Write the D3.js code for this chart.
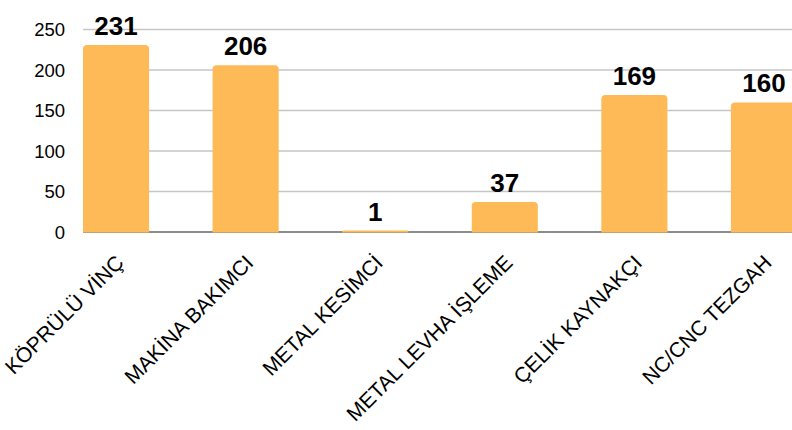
<!DOCTYPE html>
<html><head><meta charset="utf-8">
<script src="https://cdn.jsdelivr.net/npm/d3@7"></script>
<style>html,body{margin:0;padding:0;background:#fff;overflow:hidden}svg{display:block}</style>
</head><body>
<svg id="c" width="792" height="430"></svg>
<script>
const categories = ["KÖPRÜLÜ VİNÇ","MAKİNA BAKIMCI","METAL KESİMCİ","METAL LEVHA İŞLEME","ÇELİK KAYNAKÇI","NC/CNC TEZGAH"];
const values = [231,206,1,37,169,160];
const yTicks = [0,50,100,150,200,250];

const svg = d3.select("#c");
const font = "'Liberation Sans', Arial, sans-serif";
const x = d3.scaleBand().domain(categories).range([83, 83 + 5*129.6 + 66]).paddingInner(0.49).paddingOuter(0);
const y = d3.scaleLinear().domain([0,250]).range([232, 29.5]);

svg.append("g").selectAll("line").data(yTicks.filter(d=>d>0)).join("line")
  .attr("x1",83).attr("x2",792).attr("y1",d=>y(d)).attr("y2",d=>y(d))
  .attr("stroke","#c6c6c6").attr("stroke-width",1.3);

svg.append("g").selectAll("text").data(yTicks).join("text")
  .attr("x",65).attr("y",d=>y(d)+6.5).attr("text-anchor","end")
  .attr("font-family",font).attr("font-size",18.5).attr("fill","#000").text(d=>d);

svg.append("line").attr("x1",83).attr("x2",792).attr("y1",y(0)).attr("y2",y(0))
  .attr("stroke","#666").attr("stroke-width",1.3);

const r = 4;
svg.append("g").selectAll("path").data(values).join("path")
  .attr("fill","#FDBA57")
  .attr("d",(d,i)=>{
    const x0 = x(categories[i]), w = x.bandwidth(), y0 = Math.min(y(d), y(0)-1.5), yb = y(0)+0.6;
    const rr = Math.min(r, (yb-y0)/2);
    const p = d3.path();
    p.moveTo(x0, yb);
    p.lineTo(x0, y0+rr);
    p.quadraticCurveTo(x0, y0, x0+rr, y0);
    p.lineTo(x0+w-rr, y0);
    p.quadraticCurveTo(x0+w, y0, x0+w, y0+rr);
    p.lineTo(x0+w, yb);
    p.closePath();
    return p.toString();
  });

svg.append("g").selectAll("text").data(values).join("text")
  .attr("x",(d,i)=>x(categories[i])+x.bandwidth()/2)
  .attr("y",d=>Math.max(y(d)-10, 24))
  .attr("text-anchor","middle").attr("font-family",font).attr("font-weight","bold")
  .attr("font-size",26).attr("fill","#000").text(d=>d);

svg.append("g").selectAll("text").data(categories).join("text")
  .attr("transform",d=>`translate(${x(d)+x.bandwidth()/2+9},${264}) rotate(-45)`)
  .attr("text-anchor","end").attr("font-family",font).attr("font-size",21).attr("fill","#000")
  .text(d=>d);
</script>
</body></html>
